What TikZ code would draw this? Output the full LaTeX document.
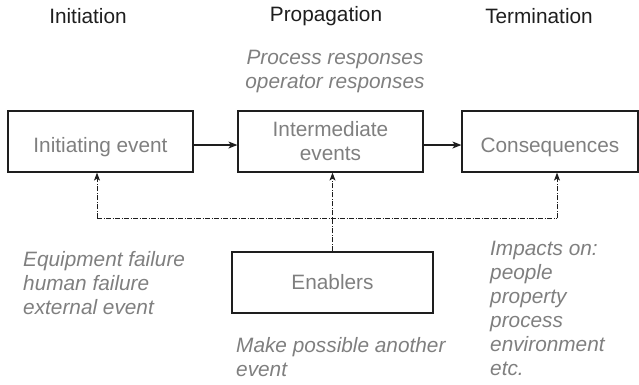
\documentclass[tikz,border=0pt]{standalone}
\usepackage{fontspec}
\setmainfont{Liberation Sans}
\usetikzlibrary{arrows.meta}
\definecolor{txtgray}{HTML}{7F7F7F}
\definecolor{dark}{HTML}{1E1E1E}
\begin{document}
\begin{tikzpicture}[x=1pt,y=-1pt,
  every node/.style={font=\fontsize{20.8pt}{24pt}\selectfont, inner sep=0pt},
  header/.style={text=dark},
  boxnode/.style={draw=dark, line width=1.2pt, text=txtgray, minimum height=61pt, align=center},
  note/.style={text=txtgray, font=\fontsize{20.8pt}{24pt}\selectfont\itshape, align=left, anchor=north west},
  arr/.style={draw=dark, line width=1.2pt, -{Stealth[length=9pt,width=7pt,inset=2.5pt]}},
  dd/.style={draw=dark, line width=0.9pt, dash pattern=on 5pt off 1.5pt on 1pt off 1.5pt},
  ddarr/.style={dd, -{Stealth[length=8pt,width=6pt,inset=2pt]}}
]
\useasboundingbox (0,0) rectangle (639,384);

% headers
\node[header] (h1) at (88,16) {Initiation};
\node[header] (h2) at (326,16) {Propagation};
\node[header] (h3) at (539,16) {Termination};

% process responses
\node[note, align=center, anchor=north] (pr) at (335,50) {Process responses\\operator responses};

% boxes
\node[boxnode, minimum width=185pt, text height=22pt, text depth=0pt] (init) at (100.5,141.5) {Initiating event};
\node[boxnode, minimum width=185pt] (inter) at (330.5,141.5) {Intermediate\\events};
\node[boxnode, minimum width=176pt, text height=22pt, text depth=0pt] (cons) at (550,141.5) {Consequences};
\node[boxnode, minimum width=201pt] (en) at (332.5,282.5) {Enablers};

% solid arrows
\draw[arr] ([yshift=-3.5pt]init.east) -- ([yshift=-3.5pt]inter.west);
\draw[arr] ([yshift=-3.5pt]inter.east) -- ([yshift=-3.5pt]cons.west);

% dash-dot connectors
\coordinate (jl) at (97,218);
\coordinate (jr) at (557,218);
\draw[dd] (jl) -- (jr);
\draw[ddarr] (jl) -- (jl |- init.south);
\draw[ddarr] (jr) -- (jr |- cons.south);
\draw[ddarr] (en.north) -- (en.north |- inter.south);

% notes
\node[note] (eq) at (23,251) {Equipment failure\\human failure\\external event};
\node[note] (imp) at (490,241) {Impacts on:\\people\\property\\process\\environment\\etc.};
\node[note] (mk) at (236,337) {Make possible another\\event};
\end{tikzpicture}
\end{document}
